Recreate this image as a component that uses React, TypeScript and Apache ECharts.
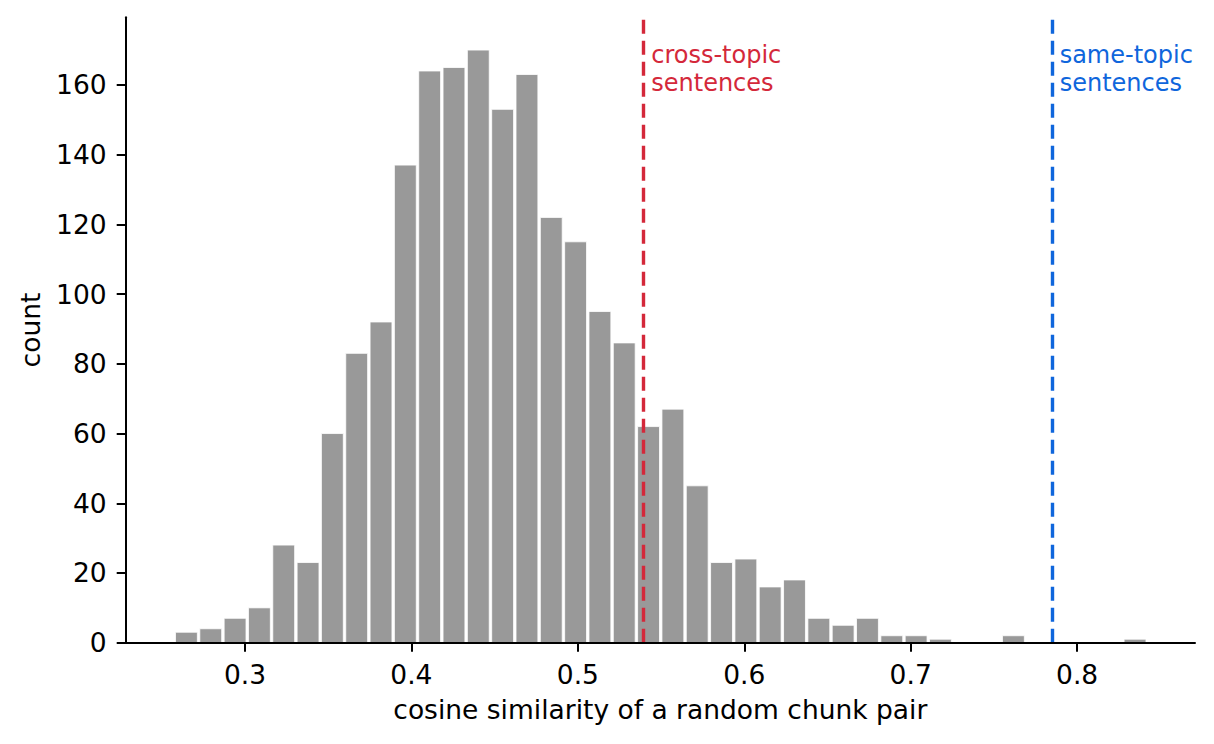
import React, { useEffect, useRef } from 'react';
import * as echarts from 'echarts';

// histogram bins (40 equal bins) and their counts
const binStart = 0.2575;
const binWidth = 0.014615;
const counts = [
  3, 4, 7, 10, 28, 23, 60, 83, 92, 137,
  164, 165, 170, 153, 163, 122, 115, 95, 86, 62,
  67, 45, 23, 24, 16, 18, 7, 5, 7, 2,
  2, 1, 0, 0, 2, 0, 0, 0, 0, 1,
];

const xTicks = [0.3, 0.4, 0.5, 0.6, 0.7, 0.8];
const yTicks = [0, 20, 40, 60, 80, 100, 120, 140, 160];

const crossTopic = 0.5395;
const sameTopic = 0.7849;
const labelLevel = 172.6;

const RED = '#d4283a';
const BLUE = '#0f66dc';
const FONT = 'DejaVu Sans';

const App: React.FC = () => {
  const chartRef = useRef<HTMLDivElement | null>(null);

  useEffect(() => {
    document.body.style.margin = '0';
    if (!chartRef.current) return;
    const chart = echarts.init(chartRef.current, undefined, { renderer: 'svg' });

    const bins = counts.map((c, i) => [binStart + i * binWidth, binStart + (i + 1) * binWidth, c]);

    const vline = (x: number, color: string) => ({
      silent: true,
      symbol: ['none', 'none'],
      label: { show: false },
      lineStyle: { color, width: 3.4, type: [14, 7], opacity: 1 },
      data: [[{ coord: [x, 0] }, { coord: [x, 179.4] }]],
    });

    const note = (x: number, text: string, color: string) => ({
      type: 'scatter',
      silent: true,
      symbolSize: 0,
      itemStyle: { opacity: 1 },
      data: [[x + 0.0046, labelLevel]],
      label: {
        show: true,
        position: [0, 0],
        align: 'left',
        verticalAlign: 'top',
        formatter: text,
        color,
        opacity: 1,
        fontSize: 24,
        lineHeight: 28,
        fontFamily: FONT,
      },
      z: 5,
    });

    const option = {
      animation: false,
      grid: { left: 125.7, right: 19, top: 17.3, bottom: 101.3 },
      xAxis: {
        type: 'value',
        min: 0.22832,
        max: 0.87083,
        z: 10,
        name: 'cosine similarity of a random chunk pair',
        nameLocation: 'middle',
        nameGap: 53,
        nameTextStyle: { fontSize: 26.5, color: '#000', fontFamily: FONT },
        splitLine: { show: false },
        axisLine: { lineStyle: { color: '#000', width: 2 } },
        axisTick: { show: true, length: 9, lineStyle: { color: '#000', width: 2 }, customValues: xTicks },
        axisLabel: {
          customValues: xTicks,
          formatter: (v: number) => v.toFixed(1),
          fontSize: 26.5,
          color: '#000',
          fontFamily: FONT,
          margin: 18,
        },
      },
      yAxis: {
        type: 'value',
        min: 0,
        max: 179.4,
        z: 10,
        name: 'count',
        nameLocation: 'middle',
        nameGap: 82,
        nameTextStyle: { fontSize: 26.5, color: '#000', fontFamily: FONT },
        splitLine: { show: false },
        axisLine: { show: true, lineStyle: { color: '#000', width: 2 } },
        axisTick: { show: true, length: 9, lineStyle: { color: '#000', width: 2 }, customValues: yTicks },
        axisLabel: {
          customValues: yTicks,
          fontSize: 26.5,
          color: '#000',
          fontFamily: FONT,
          margin: 19,
        },
      },
      series: [
        {
          type: 'custom',
          data: bins,
          encode: { x: [0, 1], y: 2 },
          renderItem: (_params: any, api: any) => {
            const x0 = api.value(0);
            const x1 = api.value(1);
            const c = api.value(2);
            const pad = (x1 - x0) * 0.05;
            const p0 = api.coord([x0 + pad, c]);
            const p1 = api.coord([x1 - pad, 0]);
            return {
              type: 'rect',
              shape: { x: p0[0], y: p0[1], width: p1[0] - p0[0], height: p1[1] - p0[1] },
              style: { fill: '#999999', stroke: '#ffffff', lineWidth: 0.8 },
            };
          },
          z: 1,
        },
        {
          type: 'line',
          data: [],
          markLine: vline(crossTopic, RED),
          z: 3,
        },
        {
          type: 'line',
          data: [],
          markLine: vline(sameTopic, BLUE),
          z: 3,
        },
        note(crossTopic, 'cross-topic\nsentences', RED),
        note(sameTopic, 'same-topic\nsentences', BLUE),
      ],
    };

    chart.setOption(option as any);
    return () => {
      chart.dispose();
    };
  }, []);

  return <div ref={chartRef} style={{ width: '1214px', height: '744px' }}></div>;
};

export default App;
